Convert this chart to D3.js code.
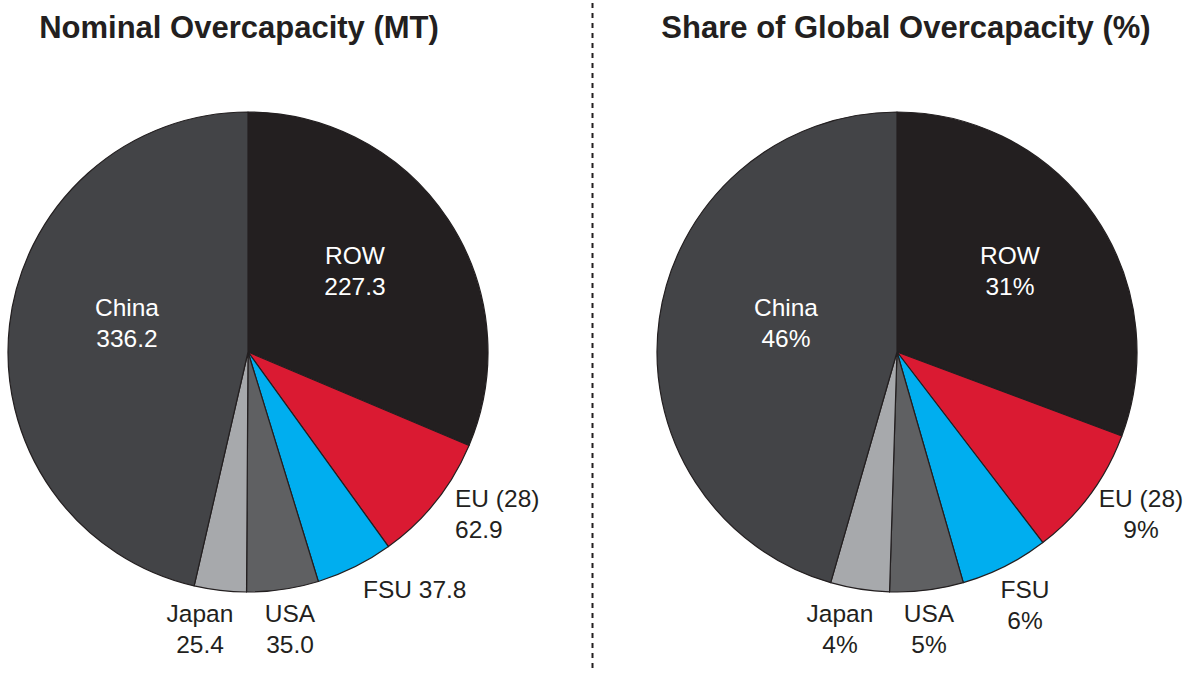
<!DOCTYPE html>
<html>
<head>
<meta charset="utf-8">
<script src="https://cdn.jsdelivr.net/npm/d3@7"></script>
<style>
  html, body { margin: 0; padding: 0; background: #ffffff; }
  svg { display: block; font-family: "Liberation Sans", Arial, Helvetica, sans-serif; }
</style>
</head>
<body>
<svg id="chart" width="1187" height="673"></svg>
<script>
// ---- Data ----
const regions = ["ROW", "EU (28)", "FSU", "USA", "Japan", "China"];
const nominalMT = [227.3, 62.9, 37.8, 35.0, 25.4, 336.2];
const sharePct = [31, 9, 6, 5, 4, 46];
const colors = ["#231f20", "#da1a32", "#00aeef", "#5f6062", "#a7a9ac", "#434447"];
const titles = ["Nominal Overcapacity (MT)", "Share of Global Overcapacity (%)"];

// ---- Layout (styles/positions) ----
const svg = d3.select("#chart");
const R = 240;
const panels = [
  {
    cx: 248, cy: 352, values: nominalMT, fmt: d => d3.format(".1f")(d), title: titles[0], titleX: 239,
    labels: [
      { x: 355, y: 264, anchor: "middle", lines: 2, fill: "#fff" },
      { x: 455, y: 507, anchor: "start", lines: 2, fill: "#231f20" },
      { x: 363, y: 598, anchor: "start", lines: 1, fill: "#231f20" },
      { x: 290, y: 622, anchor: "middle", lines: 2, fill: "#231f20" },
      { x: 200, y: 622, anchor: "middle", lines: 2, fill: "#231f20" },
      { x: 127, y: 316, anchor: "middle", lines: 2, fill: "#fff" }
    ]
  },
  {
    cx: 897, cy: 352, values: sharePct, fmt: d => d + "%", title: titles[1], titleX: 906,
    labels: [
      { x: 1010, y: 264, anchor: "middle", lines: 2, fill: "#fff" },
      { x: 1141, y: 507, anchor: "middle", lines: 2, fill: "#231f20" },
      { x: 1025, y: 598, anchor: "middle", lines: 2, fill: "#231f20" },
      { x: 929, y: 622, anchor: "middle", lines: 2, fill: "#231f20" },
      { x: 840, y: 622, anchor: "middle", lines: 2, fill: "#231f20" },
      { x: 786, y: 316, anchor: "middle", lines: 2, fill: "#fff" }
    ]
  }
];

const pie = d3.pie().sort(null).value(d => d.value);
const arc = d3.arc().innerRadius(0).outerRadius(R);

panels.forEach(p => {
  const data = regions.map((r, i) => ({ region: r, value: p.values[i], color: colors[i] }));
  const g = svg.append("g").attr("transform", `translate(${p.cx},${p.cy})`);
  g.selectAll("path")
    .data(pie(data))
    .join("path")
    .attr("d", arc)
    .attr("fill", d => d.data.color)
    .attr("stroke", "#231f20")
    .attr("stroke-width", 1.2)
    .attr("stroke-linejoin", "round");

  data.forEach((d, i) => {
    const L = p.labels[i];
    const t = svg.append("text")
      .attr("x", L.x).attr("y", L.y)
      .attr("text-anchor", L.anchor)
      .attr("fill", L.fill)
      .attr("font-size", 24.5);
    if (L.lines === 1) {
      t.text(d.region + " " + p.fmt(d.value));
    } else {
      t.append("tspan").attr("x", L.x).attr("dy", 0).text(d.region);
      t.append("tspan").attr("x", L.x).attr("dy", 31).text(p.fmt(d.value));
    }
  });

  svg.append("text")
    .attr("x", p.titleX).attr("y", 38)
    .attr("text-anchor", "middle")
    .attr("font-size", 31)
    .attr("font-weight", "bold")
    .attr("fill", "#231f20")
    .text(p.title);
});

// divider
svg.append("line")
  .attr("x1", 592.5).attr("x2", 592.5)
  .attr("y1", 3).attr("y2", 670)
  .attr("stroke", "#231f20")
  .attr("stroke-width", 2)
  .attr("stroke-dasharray", "5,5");
</script>
</body>
</html>
